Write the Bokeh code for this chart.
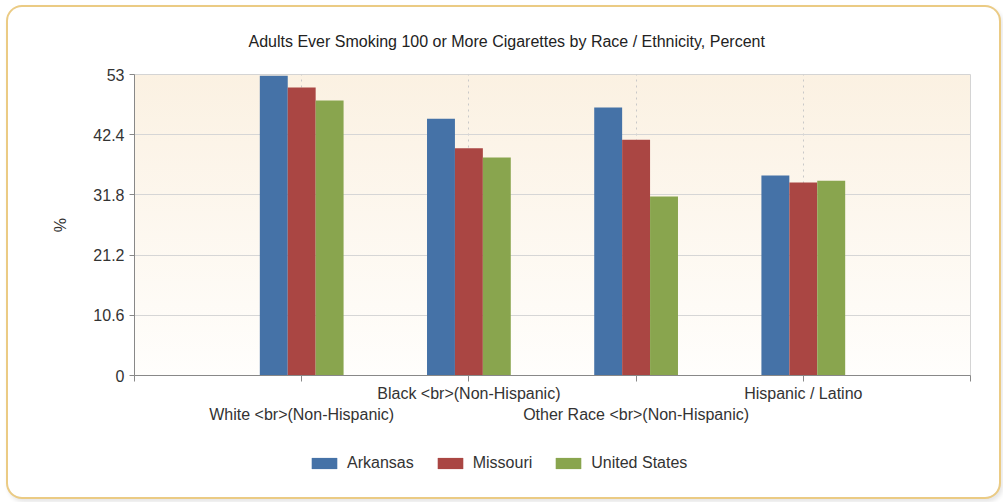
from bokeh.plotting import figure
from bokeh.models import FixedTicker, Legend, LegendItem, ColumnDataSource
from bokeh.layouts import column
from bokeh.transform import dodge
from bokeh.embed import file_html
from bokeh.resources import INLINE

categories = ["White <br>(Non-Hispanic)", "Black <br>(Non-Hispanic)",
              "Other Race <br>(Non-Hispanic)", "Hispanic / Latino"]
arkansas = [52.8, 45.2, 47.2, 35.2]
missouri = [50.7, 40.0, 41.5, 34.0]
united_states = [48.4, 38.4, 31.5, 34.3]
series_names = ["Arkansas", "Missouri", "United States"]
y_ticks = [0, 10.6, 21.2, 31.8, 42.4, 53]

colors = ["#4572a7", "#aa4643", "#89a54e"]
FONT = "Liberation Sans"

pos = list(range(1, len(categories) + 1))
src = ColumnDataSource(dict(x=pos, a=arkansas, m=missouri, u=united_states))

p = figure(width=991, height=433, output_backend="svg", toolbar_location=None,
           x_range=(0, len(categories) + 1), y_range=(0, 53),
           min_border_left=126, min_border_right=29, min_border_top=67,
           min_border_bottom=65)
p.styles = {"background": "linear-gradient(to bottom, #fbf1e2, #fffefc) "
                          "126px 67px / 836px 301px no-repeat"}

p.title.text = "Adults Ever Smoking 100 or More Cigarettes by Race / Ethnicity, Percent"
p.title.align = "left"
p.title.vertical_align = "middle"
p.title.text_font = FONT
p.title.text_font_size = "16px"
p.title.text_font_style = "normal"
p.title.text_color = "#222222"
p.title.offset = 114
p.title.standoff = 47

p.background_fill_color = None
p.border_fill_color = None
p.outline_line_color = "#d4d4d4"

w = 0.167
keys = ["a", "m", "u"]
renderers = []
for i, k in enumerate(keys):
    r = p.vbar(x=dodge("x", (i - 1) * w, range=p.x_range), top=k, width=w,
               bottom=0, source=src, fill_color=colors[i], line_color=None)
    renderers.append(r)

# y axis
p.yaxis.ticker = FixedTicker(ticks=y_ticks)
p.yaxis.minor_tick_line_color = None
p.yaxis.major_tick_in = 0
p.yaxis.major_tick_out = 5
p.yaxis.axis_line_color = "#888888"
p.yaxis.major_tick_line_color = "#888888"
p.yaxis.major_label_text_font = FONT
p.yaxis.major_label_text_font_size = "16px"
p.yaxis.major_label_text_color = "#333333"
p.yaxis.axis_label = "%"
p.yaxis.axis_label_text_font = FONT
p.yaxis.axis_label_text_font_size = "16px"
p.yaxis.axis_label_text_font_style = "normal"
p.yaxis.axis_label_text_color = "#333333"
p.yaxis.axis_label_standoff = 21

# x axis
p.xaxis.ticker = FixedTicker(ticks=[0] + pos + [len(categories) + 1])
overrides = {0: "", len(categories) + 1: ""}
for i, c in enumerate(categories):
    overrides[pos[i]] = ("\n" + c) if i % 2 == 0 else c
p.xaxis.major_label_overrides = overrides
p.xaxis.minor_tick_line_color = None
p.xaxis.major_tick_in = 0
p.xaxis.major_tick_out = 6
p.xaxis.axis_line_color = "#888888"
p.xaxis.major_tick_line_color = "#888888"
p.xaxis.major_label_text_font = FONT
p.xaxis.major_label_text_font_size = "16px"
p.xaxis.major_label_text_color = "#333333"
p.xaxis.major_label_text_line_height = 1.25
p.xaxis.major_label_standoff = 3

# grids
p.ygrid.ticker = FixedTicker(ticks=y_ticks)
p.ygrid.grid_line_color = "#d6d6d6"
p.xgrid.ticker = FixedTicker(ticks=pos)
p.xgrid.grid_line_color = "#c8c8c8"
p.xgrid.grid_line_dash = "dotted"

# legend strip (separate figure so it can sit centred under the whole chart)
lp = figure(width=991, height=57, output_backend="svg", toolbar_location=None,
            x_range=(0, 1), y_range=(0, 1), min_border=0,
            x_axis_location=None, y_axis_location=None)
lp.grid.visible = False
lp.outline_line_color = None
lp.background_fill_color = None
lp.border_fill_color = None
leg_renderers = []
for i, k in enumerate(keys):
    r = lp.vbar(x="x", top=k, width=w, source=src, fill_color=colors[i],
                line_color=None, visible=False)
    leg_renderers.append(r)
legend = Legend(items=[LegendItem(label=n, renderers=[r]) for n, r in zip(series_names, leg_renderers)],
                orientation="horizontal", location=(174, 25),
                glyph_width=32, glyph_height=14, label_standoff=7, spacing=20,
                label_text_font=FONT, label_text_font_size="16px",
                label_text_color="#333333", border_line_color=None,
                background_fill_alpha=0, inactive_fill_alpha=0,
                padding=4, margin=0)
lp.add_layout(legend, "center")

layout = column(p, lp, spacing=0)
layout.styles = {"margin": "7px 0 0 8px", "border-radius": "14px",
                 "box-shadow": "0 0 0 2px #ebcb84, 2px 3px 4px 2px rgba(0,0,0,0.10)"}

open("out.html", "w").write(file_html(layout, INLINE))
